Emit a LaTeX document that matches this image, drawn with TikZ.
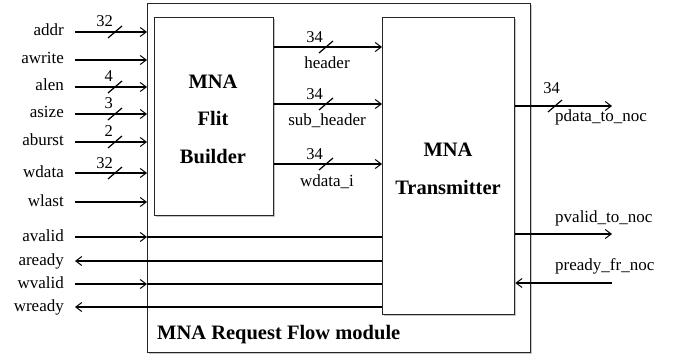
\documentclass[tikz,border=0pt]{standalone}
\usepackage{fontspec}
\setmainfont{Liberation Serif}
\usetikzlibrary{calc,arrows.meta,shadows}

\begin{document}
\begin{tikzpicture}[
    x=1pt,
    y=-1pt,
    wire/.style={black, line width=1.2pt},
    sig/.style={wire, -{Straight Barb[length=6pt, width=9pt, line width=1pt]}},
    sigback/.style={wire, {Straight Barb[length=6pt, width=9pt, line width=1pt]}-},
    box/.style={draw=black!85, line width=1.3pt, fill=white,
        drop shadow={shadow xshift=1.5pt, shadow yshift=-1.5pt, opacity=0.45}},
    portlabel/.style={font=\fontsize{17}{19}\selectfont, inner sep=0pt},
    buslabel/.style={font=\fontsize{16.5}{18}\selectfont, inner sep=0pt},
    blocklabel/.style={font=\bfseries\fontsize{20.5}{22}\selectfont, inner sep=0pt}
]

\useasboundingbox (0,0) rectangle (676,358);

% -------------------------------------------------------------------------
% Blocks
% -------------------------------------------------------------------------
\node[ box, anchor=north west, minimum width=383pt, minimum height=349pt ]
    (module) at (147,3) {};
\node[ box, anchor=north west, minimum width=119pt, minimum height=198pt ]
    (builder) at (154,17) {};
\node[ box, anchor=north west, minimum width=132pt, minimum height=297pt ]
    (tx) at (382,17) {};

% -------------------------------------------------------------------------
% Block labels
% -------------------------------------------------------------------------
\node[ blocklabel, anchor=base ] (builder-l1) at (213,89)  {MNA};
\node[ blocklabel, anchor=base ] (builder-l2) at (213,126) {Flit};
\node[ blocklabel, anchor=base ] (builder-l3) at (213,163) {Builder};

\node[ blocklabel, anchor=base ] (tx-l1) at (448,157) {MNA};
\node[ blocklabel, anchor=base ] (tx-l2) at (448,194) {Transmitter};

\node[ blocklabel, anchor=base west ] (module-label) at (157,339)
    {MNA Request Flow module};

% -------------------------------------------------------------------------
% Inputs into the flit builder
% -------------------------------------------------------------------------
\foreach \name/\y in {addr/32, awrite/60, alen/87, asize/114, aburst/142,
                      wdata/173, wlast/202}{
    \coordinate (\name-in) at (75,\y);
    \node[ portlabel, anchor=base east ] (\name) at ($(\name-in)+(-11,4)$) {\name};
    \draw[ sig ] (\name-in) -- (\name-in -| module.west);
}

% bus width marks on the inputs
\foreach \name/\w in {addr/32, alen/4, asize/3, aburst/2, wdata/32}{
    \coordinate (\name-bus) at (\name-in -| 115,0);
    \draw[ wire ] ($(\name-bus)+(-7,6)$) -- ($(\name-bus)+(7,-6)$);
    \node[ buslabel, anchor=base east ] (\name-width) at ($(\name-bus)+(-2,-5)$) {\w};
}

% -------------------------------------------------------------------------
% Handshake lines into the transmitter
% -------------------------------------------------------------------------
\foreach \name/\y in {avalid/237, wvalid/284}{
    \coordinate (\name-in) at (75,\y);
    \node[ portlabel, anchor=base east ] (\name) at ($(\name-in)+(-11,4)$) {\name};
    \draw[ sig ] (\name-in) -- (\name-in -| module.west);
    \draw[ wire ] (\name-in -| module.west) -- (\name-in -| tx.west);
}

\foreach \name/\y in {aready/261, wready/307}{
    \coordinate (\name-in) at (75,\y);
    \node[ portlabel, anchor=base east ] (\name) at ($(\name-in)+(-11,4)$) {\name};
    \draw[ sigback ] (\name-in) -- (\name-in -| tx.west);
}

% -------------------------------------------------------------------------
% Builder to transmitter buses
% -------------------------------------------------------------------------
\foreach \name/\y/\txt in {hdr/47/header, subhdr/104/sub\_header, wdi/164/wdata\_i}{
    \coordinate (\name-out) at (builder.east |- 0,\y);
    \draw[ sig ] (\name-out) -- (\name-out -| tx.west);
    \coordinate (\name-bus) at (\name-out -| 326,0);
    \draw[ wire ] ($(\name-bus)+(-7,6)$) -- ($(\name-bus)+(7,-6)$);
    \node[ buslabel, anchor=base east ] (\name-width) at ($(\name-bus)+(-3,-4)$) {34};
    \node[ portlabel, anchor=base ] (\name) at ($(\name-bus)+(1,22)$) {\txt};
}

% -------------------------------------------------------------------------
% Transmitter outputs
% -------------------------------------------------------------------------
\coordinate (pdata-end)  at (612,106);
\coordinate (pvalid-end) at (612,234);
\coordinate (pready-in)  at (612,283);

\draw[ sig ] (tx.east |- pdata-end) -- (pdata-end);
\coordinate (pdata-bus) at (555,106);
\draw[ wire ] ($(pdata-bus)+(-7,6)$) -- ($(pdata-bus)+(7,-6)$);
\node[ buslabel, anchor=base east ] (pdata-width) at ($(pdata-bus)+(5,-12)$) {34};
\node[ portlabel, anchor=base west ] (pdata) at (555,122) {pdata\_to\_noc};

\draw[ sig ] (tx.east |- pvalid-end) -- (pvalid-end);
\node[ portlabel, anchor=base west ] (pvalid) at (555,222) {pvalid\_to\_noc};

\draw[ sig ] (pready-in) -- (tx.east |- pready-in);
\node[ portlabel, anchor=base west ] (pready) at (555,270) {pready\_fr\_noc};

\end{tikzpicture}
\end{document}
